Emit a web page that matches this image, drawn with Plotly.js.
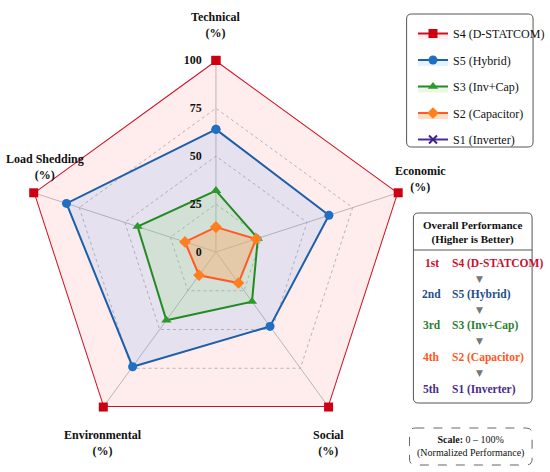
<!DOCTYPE html>
<html>
<head>
<meta charset="utf-8">
<script src="https://cdn.plot.ly/plotly-3.0.1.min.js"></script>
<style>html,body{margin:0;padding:0;background:#fff;}#chart{width:550px;height:472px;}</style>
</head>
<body>
<div id="chart"></div>
<script>
// ---- data ----
const categories = ['Technical', 'Economic', 'Social', 'Environmental', 'Load Shedding'];
const seriesNames = ['S4 (D-STATCOM)', 'S5 (Hybrid)', 'S3 (Inv+Cap)', 'S2 (Capacitor)', 'S1 (Inverter)'];
const s4Values = [100, 100, 100, 100, 100];
const s5Values = [64, 62, 48, 74, 82];
const s3Values = [32, 23, 32, 44, 43];
const s2Values = [13, 22, 20, 15, 17];
const s1Values = [0, 0, 0, 0, 0];
const radialTicks = [0, 25, 50, 75, 100];
const rankLabels = ['1st', '2nd', '3rd', '4th', '5th'];
const rankOrder = ['S4 (D-STATCOM)', 'S5 (Hybrid)', 'S3 (Inv+Cap)', 'S2 (Capacitor)', 'S1 (Inverter)'];

// ---- styles ----
const SERIF = 'Liberation Serif, Times New Roman, serif';
const styles = [
  {line: '#cc1122', marker: '#cc0011', symbol: 'square', fill: 'rgba(255,100,100,0.12)', size: 9},
  {line: '#1d5fa8', marker: '#1f6fc2', symbol: 'circle', fill: 'rgba(80,170,255,0.15)', size: 9},
  {line: '#228b22', marker: '#2a9a2a', symbol: 'triangle-up', fill: 'rgba(140,220,120,0.20)', size: 9},
  {line: '#ff5a26', marker: '#ff7f1e', symbol: 'diamond', fill: 'rgba(255,170,100,0.40)', size: 9},
  {line: '#4b2a99', marker: '#3f1f8f', symbol: 'x-thin-open', fill: 'rgba(0,0,0,0)', size: 8}
];
const rankColors = ['#c8102e', '#1f4e8c', '#2e7d32', '#ff5722', '#4a2a8a'];
const allValues = [s4Values, s5Values, s3Values, s2Values, s1Values];

const traces = allValues.map((vals, i) => {
  const st = styles[i];
  const closedR = vals.concat([vals[0]]);
  const closedT = categories.concat([categories[0]]);
  return {
    type: 'scatterpolar',
    r: closedR,
    theta: closedT,
    name: seriesNames[i],
    legendgroup: 'g' + i,
    mode: i === 4 ? 'markers' : 'lines+markers',
    fill: i === 4 ? 'none' : 'toself',
    fillcolor: st.fill,
    line: {color: st.line, width: 2},
    marker: {symbol: st.symbol, size: st.size, color: st.marker,
             line: {color: st.marker, width: i === 4 ? 2 : 0}},
    cliponaxis: false,
    hoverinfo: 'skip'
  };
});

traces[4].showlegend = false;
traces.push({
  type: 'scatterpolar', r: [null], theta: [categories[0]], name: seriesNames[4],
  legendgroup: 'g4', mode: 'lines+markers',
  line: {color: styles[4].line, width: 2},
  marker: {symbol: 'x-thin-open', size: 8, color: styles[4].marker, line: {width: 2, color: styles[4].marker}},
  hoverinfo: 'skip'
});

// ---- annotations ----
const ann = [];
function addAxisLabel(text, x, y, xanchor, yanchor) {
  ann.push({text: '<b>' + text + '</b><br><b>(%)</b>', xref: 'paper', yref: 'paper',
    x: x / 550, y: 1 - y / 472, xanchor: xanchor, yanchor: yanchor, showarrow: false,
    align: 'center', font: {family: SERIF, size: 12, color: '#111'}});
}
addAxisLabel(categories[0], 222, 42, 'center', 'bottom');
addAxisLabel(categories[1], 432, 196, 'center', 'bottom');
addAxisLabel(categories[4], 46, 184, 'center', 'bottom');
addAxisLabel(categories[3], 106, 426, 'center', 'top');
addAxisLabel(categories[2], 338, 426, 'center', 'top');

// performance box
const boxL = 425, boxR = 547, boxT = 213, boxB = 403;
ann.push({text: '<b>Overall Performance</b><br><b>(Higher is Better)</b>', xref: 'paper', yref: 'paper',
  x: ((boxL + boxR) / 2) / 550, y: 1 - 232 / 472, xanchor: 'center', yanchor: 'middle', showarrow: false,
  font: {family: SERIF, size: 11, color: '#111'}});
const rowY = [263, 294, 325, 357, 389];
rankLabels.forEach((rk, i) => {
  ann.push({text: '<b>' + rk + '</b>', xref: 'paper', yref: 'paper', x: 444 / 550, y: 1 - rowY[i] / 472,
    xanchor: 'center', yanchor: 'middle', showarrow: false, font: {family: SERIF, size: 11.5, color: rankColors[i]}});
  ann.push({text: '<b>' + rankOrder[i] + '</b>', xref: 'paper', yref: 'paper', x: 463 / 550, y: 1 - rowY[i] / 472,
    xanchor: 'left', yanchor: 'middle', showarrow: false, font: {family: SERIF, size: 11.5, color: rankColors[i]}});
  if (i < 4) {
    ann.push({text: '▼', xref: 'paper', yref: 'paper', x: 493 / 550, y: 1 - (rowY[i] + rowY[i + 1]) / 2 / 472,
      xanchor: 'center', yanchor: 'middle', showarrow: false, font: {family: 'DejaVu Sans', size: 9, color: '#777'}});
  }
});
// scale box
ann.push({text: '<b>Scale:</b> 0 – 100%<br>(Normalized Performance)', xref: 'paper', yref: 'paper',
  x: 484 / 550, y: 1 - 446 / 472, xanchor: 'center', yanchor: 'middle', showarrow: false,
  font: {family: SERIF, size: 10, color: '#111'}});

function px(x) { return x / 550; }
function py(y) { return 1 - y / 472; }
function roundRect(l, t, r, b, rad) {
  const L = px(l), R = px(r), T = py(t), B = py(b), rx = rad / 550, ry = rad / 472;
  return `M ${L + rx} ${T} L ${R - rx} ${T} Q ${R} ${T} ${R} ${T - ry} L ${R} ${B + ry} Q ${R} ${B} ${R - rx} ${B} ` +
         `L ${L + rx} ${B} Q ${L} ${B} ${L} ${B + ry} L ${L} ${T - ry} Q ${L} ${T} ${L + rx} ${T} Z`;
}
const shapes = [
  {type: 'path', xref: 'paper', yref: 'paper', path: roundRect(418, 14, 548, 147, 5),
   line: {color: '#555', width: 1}, fillcolor: 'rgba(0,0,0,0)', layer: 'below'},
  {type: 'path', xref: 'paper', yref: 'paper', path: roundRect(boxL, boxT, boxR, boxB, 5),
   line: {color: '#555', width: 1}, fillcolor: 'rgba(0,0,0,0)'},
  {type: 'line', xref: 'paper', yref: 'paper', x0: px(boxL), x1: px(boxR), y0: py(250), y1: py(250),
   line: {color: '#555', width: 1}},
  {type: 'path', xref: 'paper', yref: 'paper', path: roundRect(421, 428, 547, 465, 6),
   line: {color: '#666', width: 1, dash: 'dash'}, fillcolor: 'rgba(0,0,0,0)'}
];

const pad = '\u00a0'.repeat(4);
const cx = 222, cy = 252, R = 197;
const layout = {
  width: 550, height: 472,
  margin: {l: 0, r: 0, t: 0, b: 0},
  paper_bgcolor: '#fff',
  showlegend: true,
  legend: {x: 0.772, y: py(19), xanchor: 'left', yanchor: 'top', bgcolor: 'rgba(0,0,0,0)',
    borderwidth: 0, font: {family: SERIF, size: 12, color: '#111'}, traceorder: 'grouped', tracegroupgap: 7.5,
    itemwidth: 30},
  polar: {
    domain: {x: [px(cx - R), px(cx + R)], y: [py(cy + R), py(cy - R)]},
    bgcolor: '#fff',
    gridshape: 'linear',
    angularaxis: {rotation: 90, direction: 'clockwise', showticklabels: false, ticks: '',
      showgrid: true, gridcolor: '#bdbdbd', gridwidth: 1, showline: false},
    radialaxis: {range: [0, 100], angle: 90, side: 'counterclockwise', tickvals: radialTicks,
      ticktext: radialTicks.map(v => '<b>' + v + '</b>' + pad), tickangle: 90,
      tickfont: {family: SERIF, size: 12, color: '#111'}, showline: false, ticks: '',
      gridcolor: '#a8a8a8', griddash: '3px,3px', gridwidth: 0.8}
  },
  annotations: ann,
  shapes: shapes
};
Plotly.newPlot('chart', traces, layout, {displayModeBar: false, staticPlot: true});
</script>
</body>
</html>
